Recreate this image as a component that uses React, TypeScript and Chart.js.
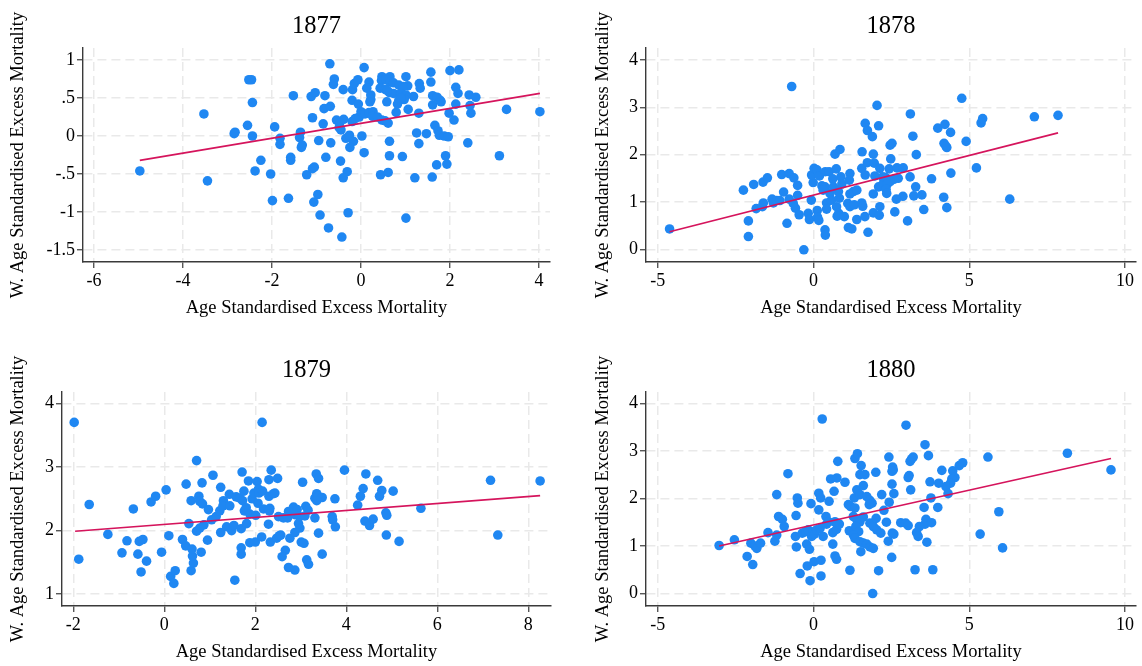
import React, { useEffect, useRef } from 'react';
import { Chart, registerables } from 'chart.js';
Chart.register(...registerables);

const FONT = "'Liberation Serif', 'Times New Roman', Times, serif";
const DOT = '#1f87f2';
const LINE = '#d5145c';
const GRID = '#e9e9e9';
const AXIS = '#3a3a3a';
const X_TITLE = 'Age Standardised Excess Mortality';
const Y_TITLE = 'W. Age Standardised Excess Mortality';

// ---------- 1877 ----------
const x1877 = [-4.97,-3.53,-3.45,-2.52,-2.46,-2.44,-1.52,-1.12,-1.03,-1.09,-2.55,-2.85,-2.83,-2.44,-1.94,-1.82,-1.82,-1.36,-1.38,-1.32,-1.34,-0.95,-2.25,-1.58,-1.58,-2.38,-2.03,-1.22,-1.09,-1.05,-1.99,-1.63,-1.06,-0.97,-0.92,
-0.7,0.07,-0.6,-0.62,-0.4,-0.81,-0.19,-0.15,-0.07,0.18,0.13,0.22,0.22,0.2,-0.2,-0.06,-0.83,-0.69,-0.85,
-0.55,-0.39,-0.48,-0.45,-0.49,-0.2,-0.13,-0.04,0,0.09,0.18,0.27,0.26,0.37,0.47,0.54,0.61,
-0.34,-0.26,-0.17,-0.25,0.02,-0.68,-0.79,-0.46,0.07,-0.31,-0.4,-0.73,-0.43,-0.29,
0.44,0.61,0.64,0.93,0.64,1.01,1.21,1.6,1.7,1.93,1.9,3.11,2.4,
1.25,1.47,1.3,1.66,1.73,1.76,1.87,1.96,2.09,1.98,2.47,2.45,2.13,3.27,4.02,2.43,2.58,2.13,2.18,2.0,2.2,1.57,1.57,
1.61,1.61,1.71,1.78,1.8,1.31,1.33,1.18,1.3,1.06,0.79,1.01,
0.47,0.65,0.46,0.56,0.65,0.73,0.85,1.05,0.95,
0.43,0.55,0.64,0.73,0.59,0.89,1.01,0.85,0.97,0.9,0.58,0.82];
const y1877 = [-0.46,0.29,-0.59,0.74,0.74,0.44,0.53,0.52,0.57,0.24,0.14,0.03,0.05,0.0,0.12,-0.03,-0.11,0.05,-0.02,-0.12,-0.15,-0.06,-0.32,-0.28,-0.32,-0.46,-0.5,-0.51,-0.43,-0.41,-0.85,-0.82,-0.87,-0.77,-1.04,
0.95,0.9,0.75,0.68,0.61,0.53,0.61,0.69,0.74,0.71,0.63,0.54,0.48,0.45,0.47,0.42,0.36,0.39,0.16,
0.21,0.22,0.17,0.08,0.11,0.19,0.23,0.25,0.32,0.29,0.31,0.32,0.26,0.25,0.21,0.2,0.17,
-0.03,0.01,-0.07,-0.15,0.0,-0.09,-0.28,-0.33,-0.22,-0.47,-0.55,-1.21,-1.33,-1.01,
-0.51,-0.48,-0.26,-0.27,-0.07,-1.08,-0.55,-0.54,-0.38,-0.37,-0.26,-0.26,-0.09,
0.04,0.03,-0.1,0.14,0.07,0.01,0.0,-0.01,0.21,0.3,0.3,0.4,0.42,0.35,0.32,0.54,0.51,0.64,0.56,0.86,0.87,0.84,0.71,
0.53,0.41,0.51,0.47,0.45,0.69,0.63,0.52,0.3,0.35,0.31,0.78,
0.78,0.78,0.73,0.74,0.71,0.7,0.67,0.66,0.65,
0.63,0.61,0.57,0.56,0.6,0.56,0.54,0.47,0.48,0.5,0.45,0.42];
const fitX1877 = [-4.97, 4.02];
const fitY1877 = [-0.32, 0.56];
const xTicks1877 = [-6, -4, -2, 0, 2, 4];
const xLabels1877 = ['-6', '-4', '-2', '0', '2', '4'];
const yTicks1877 = [-1.5, -1, -0.5, 0, 0.5, 1];
const yLabels1877 = ['-1.5', '-1', '-.5', '0', '.5', '1'];

// ---------- 1878 ----------
const x1878 = [-4.62,-2.25,-2.09,-2.09,-1.92,-1.84,-1.64,-1.61,-1.62,-1.48,-1.33,-1.29,-1.18,-1.08,-1.02,-0.96,-0.85,-0.78,-0.63,-0.51,-0.7,-0.78,-0.65,-0.58,-0.51,-0.46,-0.31,-0.17,-0.13,-0.07,-0.01,-0.06,0.02,0.11,0.19,0.12,0.13,0.17,0.27,0.37,0.31,0.38,0.5,0.37,0.38,0.42,0.42,0.53,0.62,0.64,0.73,0.69,0.85,0.58,0.74,0.81,0.83,0.8,0.88,0.91,0.76,0.99,1.12,1.23,1.1,1.17,1.17,1.28,1.39,1.17,1.15,1.31,1.39,1.55,1.58,1.65,1.75,1.56,1.66,1.73,1.89,1.92,2.09,2.04,1.55,1.66,1.73,1.95,1.97,2.13,1.92,2.09,2.13,1.92,2.11,
4.76,3.11,3.99,4.22,4.4,3.19,4.19,4.28,4.25,4.9,5.38,5.43,7.09,7.85,6.3,5.23,4.41,3.79,3.3,2.48,2.46,2.52,2.43,2.68,2.88,3.1,2.72,2.58,2.46,2.4,2.31,2.22,2.24,2.37,2.33,2.35,3.28,3.22,3.48,2.87,2.66,4.18,4.28,3.54,2.61,3.02];
const y1878 = [0.43,1.25,0.6,0.27,1.37,0.86,0.9,0.98,1.42,1.51,1.06,0.98,1.03,1.03,1.58,1.21,0.55,1.6,1.51,1.35,3.44,1.06,0.97,0.87,1.14,0.73,-0.01,0.76,0.63,1.04,1.41,1.57,1.71,1.68,1.55,0.82,0.68,0.61,1.34,1.32,1.25,1.64,1.64,0.41,0.3,0.98,0.85,1.18,1.49,1.32,1.7,2.01,2.11,1.04,0.9,0.76,1.08,1.22,1.53,1.38,0.7,0.69,0.46,0.43,0.97,0.9,1.17,1.22,1.25,1.6,1.46,0.94,0.63,0.98,0.91,0.69,0.36,2.06,2.66,2.51,2.38,2.01,2.61,3.04,1.71,1.57,1.83,1.82,1.55,1.71,1.17,1.32,0.9,0.77,0.72,
3.19,2.86,2.56,2.64,2.47,2.39,2.24,2.15,2.18,2.28,2.67,2.76,2.8,2.83,1.06,1.72,1.61,1.49,2.0,1.91,2.2,2.24,1.7,1.72,1.72,1.53,1.5,1.48,1.43,1.48,1.52,1.53,1.39,1.38,1.27,1.18,1.32,1.13,1.15,1.12,1.06,1.1,0.88,0.84,0.79,0.6];
const fitX1878 = [-4.62, 7.85];
const fitY1878 = [0.37, 2.46];
const xTicks1878 = [-5, 0, 5, 10];
const xLabels1878 = ['-5', '0', '5', '10'];
const yTicks1878 = [0, 1, 2, 3, 4];
const yLabels1878 = ['0', '1', '2', '3', '4'];

// ---------- 1879 ----------
const x1879 = [-1.98,2.15,-1.88,-1.65,-1.24,-0.93,-0.82,-0.68,-0.55,-0.47,-0.58,-0.39,-0.51,-0.29,-0.19,-0.06,0.04,0.1,0.14,0.24,0.21,0.4,0.47,0.48,0.59,0.64,0.62,0.61,0.54,0.59,0.76,0.78,0.84,0.71,0.83,0.71,0.78,0.87,0.81,0.95,0.97,1.07,1.04,1.14,1.22,1.24,1.24,1.3,1.29,1.43,1.44,1.37,1.48,1.53,1.55,1.58,1.66,1.72,1.76,1.8,1.71,1.75,1.69,1.81,1.69,1.69,1.85,1.88,2.01,1.88,2.0,1.93,1.97,2.04,2.07,2.08,2.16,2.06,2.18,2.14,2.3,2.35,2.49,2.3,2.4,2.43,2.32,2.31,2.29,2.33,2.47,2.53,2.56,2.51,2.62,2.71,2.73,2.84,2.92,2.87,2.97,2.66,2.59,2.73,2.87,2.76,2.87,2.98,2.95,3.01,3.07,3.13,3.17,3.04,3.11,3.16,3.09,
3.34,3.39,3.35,3.31,3.38,3.47,3.35,3.75,3.31,3.69,3.7,3.76,3.39,3.47,3.96,4.43,4.69,4.37,4.31,4.25,4.78,4.73,5.03,4.41,4.51,4.59,4.87,4.89,4.88,5.16,5.64,7.17,8.26,7.33];
const y1879 = [3.7,3.7,1.55,2.41,1.94,1.65,1.84,2.34,1.83,1.86,1.63,1.52,1.35,2.45,2.54,1.66,2.64,1.92,1.28,1.37,1.17,1.86,1.76,2.73,1.37,1.49,1.6,1.71,2.11,2.47,2.54,2.46,2.42,3.1,2.75,1.99,2.04,2.09,1.66,1.85,2.33,2.87,2.17,2.22,2.31,1.97,2.68,2.47,2.39,2.57,2.39,2.06,2.0,2.08,1.22,2.53,2.51,2.47,2.31,2.36,2.92,2.62,2.03,2.11,1.73,1.63,2.78,2.26,2.24,1.81,1.82,2.5,2.59,2.77,2.65,2.59,2.62,2.43,2.34,1.9,2.8,2.95,2.82,2.54,2.58,2.59,2.35,2.31,2.1,1.82,1.88,1.92,1.93,2.22,2.2,2.2,2.3,2.37,2.33,2.25,2.22,1.69,1.59,1.42,1.38,1.88,1.97,2.04,2.11,1.82,1.8,1.54,1.47,2.76,2.38,2.32,2.23,
2.89,2.82,2.58,2.51,2.54,2.52,2.47,2.5,2.2,2.22,2.17,2.06,1.96,1.63,2.95,2.89,2.79,2.66,2.54,2.4,2.63,2.54,2.62,2.15,2.08,2.18,2.28,2.24,1.93,1.83,2.35,2.79,2.78,1.93];
const fitX1879 = [-1.96, 8.26];
const fitY1879 = [1.99, 2.55];
const xTicks1879 = [-2, 0, 2, 4, 6, 8];
const xLabels1879 = ['-2', '0', '2', '4', '6', '8'];
const yTicks1879 = [1, 2, 3, 4];
const yLabels1879 = ['1', '2', '3', '4'];

// ---------- 1880 ----------
const x1880 = [-3.03,-2.54,-2.13,-1.95,-2.01,-1.88,-1.82,-1.7,-1.46,-1.24,-1.18,-1.18,-1.12,-1.0,-0.94,-0.82,-0.58,-0.55,-0.56,-0.52,-0.5,-0.43,-0.2,-0.11,-0.36,-0.25,-0.17,-0.22,-0.13,-0.06,-0.01,0.03,0.1,-0.08,0.02,0.24,0.24,0.17,0.23,0.17,0.28,0.21,0.31,0.4,0.42,0.48,0.5,0.55,0.75,0.66,0.78,1.01,0.62,0.69,0.74,0.62,0.74,0.83,0.69,1.12,1.19,1.33,1.31,1.39,1.49,1.6,1.71,1.81,1.88,1.79,1.17,1.15,1.33,1.41,1.53,1.49,1.65,2.0,1.28,1.39,1.49,1.6,1.36,1.45,1.28,1.33,1.49,1.6,1.71,1.81,1.92,1.52,1.81,1.92,2.03,2.01,2.09,1.9,
2.97,3.58,2.42,3.69,3.1,3.15,3.2,2.54,2.56,2.52,3.07,3.04,4.12,4.47,4.68,4.79,4.54,4.44,4.4,4.25,3.74,4.02,2.52,3.12,2.19,2.58,4.32,3.77,2.43,2.26,3.55,3.99,2.34,2.8,2.96,3.04,3.61,3.58,3.79,3.4,2.16,2.53,2.58,3.31,3.36,2.4,3.64,2.51,3.26,3.83,5.6,8.15,9.55,5.95,5.35,6.07];
const y1880 = [1.01,1.13,0.78,0.61,1.06,1.0,0.95,1.06,1.28,1.1,1.23,2.08,1.62,1.56,1.41,2.52,1.2,0.98,1.64,2.01,1.9,0.42,0.58,0.27,1.27,1.3,1.34,1.04,0.93,1.2,1.3,1.25,1.34,1.89,0.67,0.7,0.37,2.11,2.01,1.76,3.67,1.37,1.2,1.62,1.46,1.51,1.94,2.41,2.43,2.15,2.78,2.34,1.04,0.79,0.72,1.28,1.35,1.46,1.51,1.87,1.83,1.8,2.01,2.18,2.08,2.27,2.04,1.96,1.9,1.87,0.49,1.32,2.84,2.94,2.69,2.5,2.5,2.55,1.62,1.55,1.51,1.61,1.41,1.3,1.23,1.16,1.09,1.06,1.04,0.98,0.95,0.88,1.48,1.41,1.34,1.58,0.48,0.0,
3.54,3.13,2.87,2.9,2.78,2.83,2.87,2.66,2.6,2.57,2.48,2.44,2.59,2.58,2.69,2.75,2.44,2.41,2.32,2.25,2.35,2.32,2.3,2.18,2.08,2.1,2.1,2.01,1.92,1.75,1.81,1.81,1.5,1.49,1.48,1.43,1.56,1.46,1.49,1.41,1.27,1.27,1.25,1.28,1.2,1.1,1.08,0.76,0.5,0.5,2.87,2.95,2.6,1.72,1.25,0.96];
const fitX1880 = [-3.03, 9.55];
const fitY1880 = [1.0, 2.84];
const xTicks1880 = [-5, 0, 5, 10];
const xLabels1880 = ['-5', '0', '5', '10'];
const yTicks1880 = [0, 1, 2, 3, 4];
const yLabels1880 = ['0', '1', '2', '3', '4'];

type PanelCfg = {
  title: string;
  xs: number[]; ys: number[];
  fitX: number[]; fitY: number[];
  xTicks: number[]; xLabels: string[];
  yTicks: number[]; yLabels: string[];
  xMin: number; xMax: number; yMin: number; yMax: number;
  left: number; top: number; w: number; h: number;
  yAxisW: number; padRight: number;
};

const panels: PanelCfg[] = [
  { title: '1877', xs: x1877, ys: y1877, fitX: fitX1877, fitY: fitY1877,
    xTicks: xTicks1877, xLabels: xLabels1877, yTicks: yTicks1877, yLabels: yLabels1877,
    xMin: -6.247, xMax: 4.247, yMin: -1.658, yMax: 1.158,
    left: 0, top: 0, w: 571, h: 322, yAxisW: 83, padRight: 21 },
  { title: '1878', xs: x1878, ys: y1878, fitX: fitX1878, fitY: fitY1878,
    xTicks: xTicks1878, xLabels: xLabels1878, yTicks: yTicks1878, yLabels: yLabels1878,
    xMin: -5.377, xMax: 10.353, yMin: -0.268, yMax: 4.253,
    left: 585, top: 0, w: 557, h: 322, yAxisW: 61, padRight: 6 },
  { title: '1879', xs: x1879, ys: y1879, fitX: fitX1879, fitY: fitY1879,
    xTicks: xTicks1879, xLabels: xLabels1879, yTicks: yTicks1879, yLabels: yLabels1879,
    xMin: -2.248, xMax: 8.499, yMin: 0.815, yMax: 4.178,
    left: 0, top: 344, w: 571, h: 322, yAxisW: 62, padRight: 20 },
  { title: '1880', xs: x1880, ys: y1880, fitX: fitX1880, fitY: fitY1880,
    xTicks: xTicks1880, xLabels: xLabels1880, yTicks: yTicks1880, yLabels: yLabels1880,
    xMin: -5.377, xMax: 10.353, yMin: -0.262, yMax: 4.238,
    left: 585, top: 344, w: 557, h: 322, yAxisW: 61, padRight: 6 },
];

function Panel({ cfg }: { cfg: PanelCfg }) {
  const ref = useRef<HTMLCanvasElement>(null);
  useEffect(() => {
    const canvas = ref.current;
    if (!canvas) return;
    const tickFont = { family: FONT, size: 18 };
    const gridCommon = {
      color: GRID, lineWidth: 1.5, drawTicks: true,
      tickColor: AXIS, tickLength: 6, tickWidth: 1.2,
    };
    const chart = new Chart(canvas, {
      type: 'scatter',
      data: {
        datasets: [
          {
            type: 'line',
            data: cfg.fitX.map((x, i) => ({ x, y: cfg.fitY[i] })),
            borderColor: LINE, borderWidth: 1.7, pointRadius: 0, fill: false, tension: 0,
          } as any,
          {
            type: 'scatter',
            data: cfg.xs.map((x, i) => ({ x, y: cfg.ys[i] })),
            backgroundColor: DOT, borderWidth: 0, pointRadius: 4.8, pointHoverRadius: 4.8,
          },
        ],
      },
      options: {
        responsive: false,
        animation: false,
        events: [],
        layout: { padding: { left: 0, right: cfg.padRight, top: 0, bottom: 0 } },
        plugins: {
          legend: { display: false },
          tooltip: { enabled: false },
          title: {
            display: true, text: cfg.title, color: '#000', fullSize: false,
            font: { family: FONT, size: 24.5, weight: 'normal', lineHeight: 1.2 },
            padding: { top: 12.3, bottom: 6.3 },
          },
        },
        scales: {
          x: {
            type: 'linear', position: 'bottom', min: cfg.xMin, max: cfg.xMax, bounds: 'data',
            afterBuildTicks: (s: any) => { s.ticks = cfg.xTicks.map((v) => ({ value: v })); },
            afterFit: (s: any) => { s.height = 60; },
            ticks: {
              autoSkip: false, maxRotation: 0, color: '#000', font: tickFont, padding: 2,
              callback: (_v: any, i: number) => cfg.xLabels[i],
            },
            grid: gridCommon,
            border: { display: true, color: AXIS, width: 1.4, dash: [9, 5] },
            title: {
              display: true, text: X_TITLE, color: '#000',
              font: { family: FONT, size: 18.5 }, padding: { top: 0, bottom: 2.9 },
            },
          },
          y: {
            type: 'linear', position: 'left', min: cfg.yMin, max: cfg.yMax, bounds: 'data',
            afterBuildTicks: (s: any) => { s.ticks = cfg.yTicks.map((v) => ({ value: v })); },
            afterFit: (s: any) => { s.width = cfg.yAxisW; },
            ticks: {
              autoSkip: false, color: '#000', font: tickFont, padding: 2,
              callback: (_v: any, i: number) => cfg.yLabels[i],
            },
            grid: gridCommon,
            border: { display: true, color: AXIS, width: 1.4, dash: [9, 5] },
            title: {
              display: true, text: Y_TITLE, color: '#000',
              font: { family: FONT, size: 18.5 }, padding: { top: 6.9, bottom: 0 },
            },
          },
        },
      } as any,
    });
    return () => chart.destroy();
  }, [cfg]);
  return (
    <canvas
      ref={ref}
      width={cfg.w}
      height={cfg.h}
      style={{ position: 'absolute', left: cfg.left, top: cfg.top, width: cfg.w, height: cfg.h }}
    />
  );
}

export default function App() {
  return (
    <div style={{ position: 'absolute', left: 0, top: 0, width: 1142, height: 666, background: '#fff', overflow: 'hidden' }}>
      {panels.map((p) => (
        <Panel key={p.title} cfg={p} />
      ))}
    </div>
  );
}
